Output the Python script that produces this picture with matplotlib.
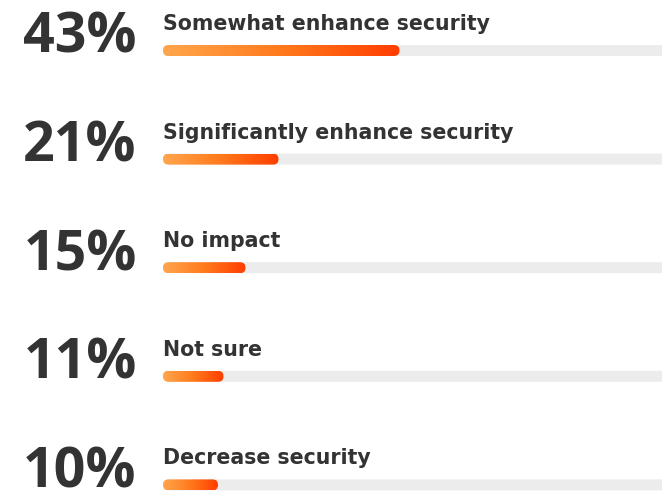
import numpy as np
import matplotlib
matplotlib.use("Agg")
import matplotlib.pyplot as plt
from matplotlib.patches import FancyBboxPatch
from matplotlib.colors import LinearSegmentedColormap

# data
labels = ["Somewhat enhance security", "Significantly enhance security",
          "No impact", "Not sure", "Decrease security"]
values = [43, 21, 15, 11, 10]
pct_labels = ["43%", "21%", "15%", "11%", "10%"]

W, H = 662, 492
px_per_pct = 5.5          # horizontal scale of the bars
row_px = 108.6            # distance between rows
bar_px = 11               # bar thickness
left_px = 163
first_px = 50.5

dark = "#333333"
track = "#ececec"
cmap = LinearSegmentedColormap.from_list("org", ["#ffa64d", "#ff7a1c", "#ff3d00"])

fig = plt.figure(figsize=(W / 100, H / 100), dpi=100)
ax = fig.add_axes([left_px / W, 0, (W - left_px) / W, 1])
xmax = (W - left_px) / px_per_pct
ax.set_xlim(0, xmax)
ax.set_ylim((H - first_px) / row_px, -first_px / row_px)
ax.axis("off")

h = bar_px / row_px
asp = px_per_pct / row_px
r = bar_px / 2 / px_per_pct
grad = np.linspace(0, 1, 256).reshape(1, -1)

for i, (lab, v, pl) in enumerate(zip(labels, values, pct_labels)):
    # grey track, runs off the right edge
    tr = FancyBboxPatch((0, i - h / 2), xmax * 1.2, h,
                        boxstyle=f"round,pad=0,rounding_size={r}",
                        mutation_aspect=asp, fc=track, ec="none", clip_on=False)
    ax.add_patch(tr)
    # gradient bar
    bar = FancyBboxPatch((0, i - h / 2), v, h,
                         boxstyle=f"round,pad=0,rounding_size={r}",
                         mutation_aspect=asp, fc="none", ec="none")
    ax.add_patch(bar)
    im = ax.imshow(grad, cmap=cmap, extent=(0, v, i + h / 2, i - h / 2),
                   aspect="auto", interpolation="bicubic", zorder=3)
    im.set_clip_path(bar)

    ax.annotate(lab, xy=(0, i - h / 2), xytext=(0, 15), textcoords="offset pixels",
                ha="left", va="baseline", fontsize=14.8, fontweight="bold",
                family="DejaVu Sans", color=dark, annotation_clip=False)
    ax.annotate(pl, xy=(80, i + h / 2), xycoords=("figure pixels", "data"),
                xytext=(0, 3), textcoords="offset pixels",
                ha="center", va="baseline", fontsize=40, fontweight="bold",
                family="Open Sans", color=dark, annotation_clip=False)

# reset limits changed by imshow
ax.set_xlim(0, xmax)
ax.set_ylim((H - first_px) / row_px, -first_px / row_px)

fig.savefig("out.png", dpi=100, facecolor="white")
